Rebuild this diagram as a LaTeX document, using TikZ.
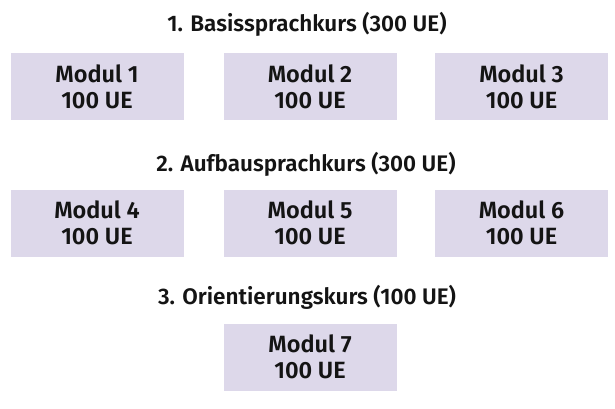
\documentclass[tikz,border=0pt]{standalone}
\usepackage{fontspec}
\setmainfont{Fira Sans SemiBold}
\definecolor{boxfill}{RGB}{221,216,234}
\definecolor{txt}{RGB}{20,20,20}
\begin{document}
\begin{tikzpicture}[x=1pt,y=-1pt,
  modbox/.style={fill=boxfill, draw=none, minimum width=173pt, minimum height=67pt,
    inner sep=0pt, align=center, text=txt, font=\fontsize{23.5}{26}\selectfont},
  title/.style={anchor=base, text=txt, inner sep=0pt, font=\fontsize{22.5}{26}\selectfont}]
\useasboundingbox (0,0) rectangle (615,408);
\node[title] (t1) at (307,31) {1. Basissprachkurs (300 UE)};
\node[modbox] (m1) at (97,86.5) {Modul 1\\100 UE};
\node[modbox] (m2) at (310,86.5) {Modul 2\\100 UE};
\node[modbox] (m3) at (521.5,86.5) {Modul 3\\100 UE};
\node[title] (t2) at (306,171) {2. Aufbausprachkurs (300 UE)};
\node[modbox] (m4) at (97,223) {Modul 4\\100 UE};
\node[modbox] (m5) at (310,223) {Modul 5\\100 UE};
\node[modbox] (m6) at (521.5,223) {Modul 6\\100 UE};
\node[title] (t3) at (307,304) {3. Orientierungskurs (100 UE)};
\node[modbox] (m7) at (310,357) {Modul 7\\100 UE};
\end{tikzpicture}
\end{document}
